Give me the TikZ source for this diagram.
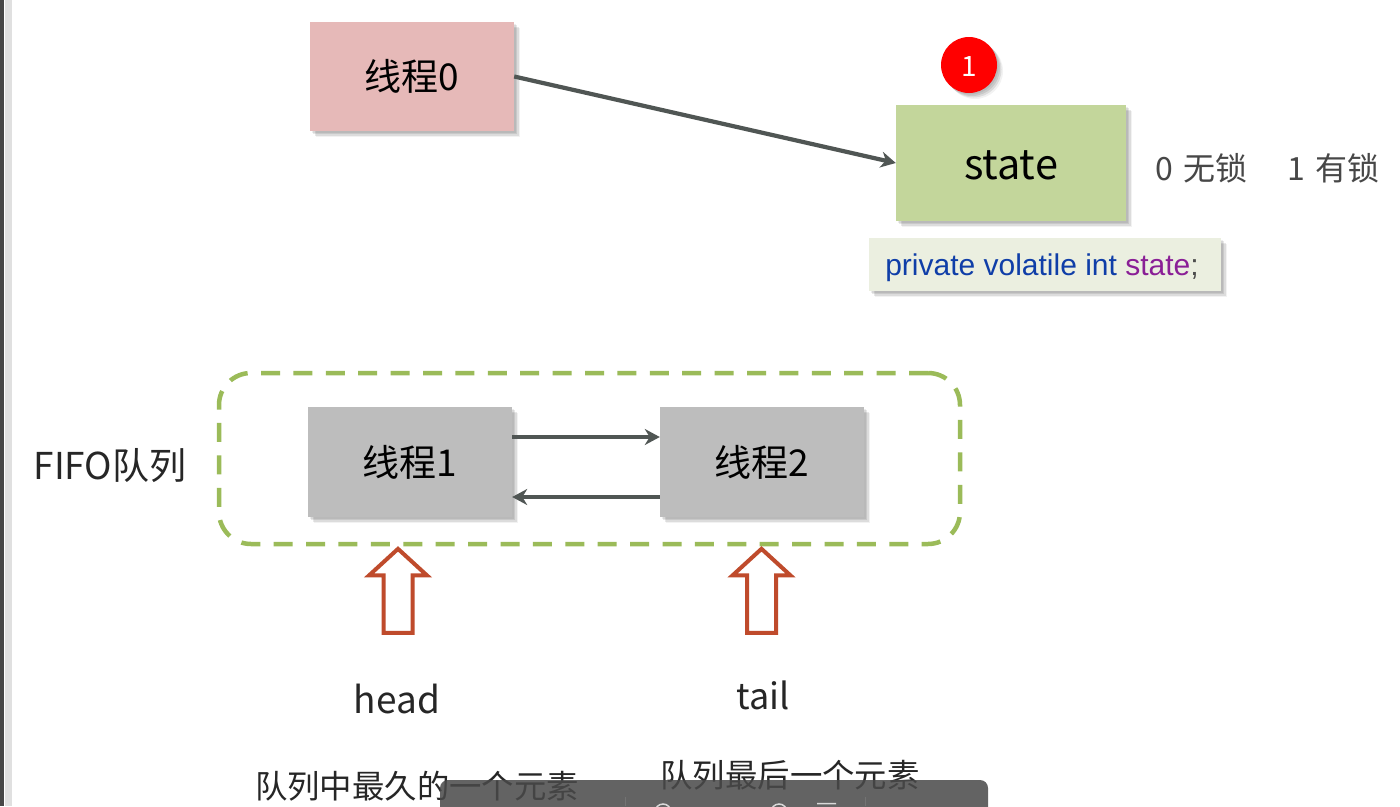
\documentclass[tikz,border=0pt]{standalone}
\usepackage{fontspec}
\setmainfont{Noto Sans CJK SC}
\newfontfamily\codefont{Liberation Sans}
\usetikzlibrary{shadows,shapes.arrows,arrows.meta}
\definecolor{pinkbox}{HTML}{E6B9B8}
\definecolor{greenbox}{HTML}{C3D69B}
\definecolor{greybox}{HTML}{BDBDBD}
\definecolor{codebox}{HTML}{EBEFE0}
\definecolor{linkgrey}{HTML}{505654}
\definecolor{dashgreen}{HTML}{9BBB59}
\definecolor{blockred}{HTML}{BF4B2C}
\definecolor{kwblue}{HTML}{0F3EA8}
\definecolor{kwpurple}{HTML}{8A1F96}
\definecolor{toolbar}{HTML}{4A4A4A}
\newcommand{\lowerby}[2]{\raisebox{-#1}[\height][\depth]{#2}}
\tikzset{
  softshadow/.style={
    general shadow={shadow xshift=1.5pt,shadow yshift=-1.5pt,fill=black,opacity=.07},
    general shadow={shadow xshift=3pt,shadow yshift=-3pt,fill=black,opacity=.09},
    general shadow={shadow xshift=4.5pt,shadow yshift=-4.5pt,fill=black,opacity=.09},
    general shadow={shadow xshift=6pt,shadow yshift=-6pt,fill=black,opacity=.05}},
  box/.style={rectangle,inner sep=0pt,anchor=center,softshadow},
  link/.style={draw=linkgrey,line width=4.2pt,-{Stealth[length=15pt,width=16pt]}},
  hollow/.style={single arrow,draw=blockred,fill=white,line width=4pt,shape border rotate=90,
    minimum width=54pt,minimum height=84pt,single arrow head extend=14.5pt,
    single arrow tip angle=95,single arrow head indent=0pt,inner sep=12.5pt},
  label/.style={inner sep=0pt,text=black!85,anchor=center},
  locktext/.style={inner sep=0pt,text=black!72,font=\fontsize{32pt}{32pt}\selectfont,anchor=center}
}
\begin{document}
\begin{tikzpicture}[x=1pt,y=-1pt]
\useasboundingbox (0,0) rectangle (1400,806);
\fill[white] (0,0) rectangle (1400,806);
% window edge
\fill[black!72] (0,0) rectangle (3.5,806);
\fill[black!12] (4.5,0) rectangle (12,806);

\node[box,fill=pinkbox,minimum width=204pt,minimum height=109pt] (t0) at (412,76.5)
  {\fontsize{37pt}{37pt}\selectfont 线程0};
\node[box,fill=greenbox,minimum width=230pt,minimum height=116pt] (state) at (1011,163)
  {\fontsize{41.5pt}{41.5pt}\selectfont\lowerby{2.5pt}{state}};
\node[circle,fill=red,minimum size=56pt,inner sep=0pt,softshadow,text=white] (badge) at (969,65)
  {\fontsize{28pt}{28pt}\selectfont\lowerby{1.5pt}{1}};
\node[box,fill=codebox,minimum width=352pt,minimum height=53pt] (code) at (1045,264.5)
  {\codefont\fontsize{30pt}{30pt}\selectfont\kern-3pt\lowerby{3.5pt}{\textcolor{kwblue}{private volatile int} \textcolor{kwpurple}{state}\textcolor{black!70}{;}}\kern3pt};
\draw[link] (t0.east) -- (state.west);

\node[locktext] (l0) at (1201.5,168) {0\ \kern3pt 无锁};
\node[locktext] (l1) at (1333.5,168) {1\ \kern3pt 有锁};

\node[draw=dashgreen,line width=4.5pt,rounded corners=32pt,dash pattern=on 19pt off 13.4pt,
  minimum width=741pt,minimum height=171pt,inner sep=0pt] (queue) at (589.5,458.5) {};
\node[box,fill=greybox,minimum width=204pt,minimum height=110pt] (t1) at (410,462)
  {\fontsize{37pt}{37pt}\selectfont 线程1};
\node[box,fill=greybox,minimum width=204pt,minimum height=110pt] (t2) at (762,462)
  {\fontsize{37pt}{37pt}\selectfont 线程2};
\draw[link] ([yshift=25pt]t1.east) -- ([yshift=25pt]t2.west);
\draw[link] ([yshift=-35pt]t2.west) -- ([yshift=-35pt]t1.east);

\node[label] (fifo) at (110,466) {\fontsize{37pt}{37pt}\selectfont FIFO队列};
\node[hollow] (ah) at (398,597.5) {};
\node[hollow] (at) at (761.5,597.5) {};
\node[label] (head) at (397,699) {\fontsize{37pt}{37pt}\selectfont head};
\node[label] (tail) at (763.5,695) {\fontsize{36pt}{36pt}\selectfont tail};
\node[label] (hd) at (417,786) {\fontsize{32.4pt}{32.4pt}\selectfont 队列中最久的一个元素};
\node[label] (td) at (790,775) {\fontsize{32.4pt}{32.4pt}\selectfont 队列最后一个元素};

% viewer toolbar
\fill[toolbar,opacity=.86,rounded corners=8pt] (440,780) rectangle (988,830);
\draw[black!55,line width=1pt] (625,797) -- (625,806) (865,797) -- (865,806);
\draw[white!85!black,line width=1.5pt] (663,812) circle (8) (779,812) circle (8) (817,803.5) -- (836,803.5);
\end{tikzpicture}
\end{document}
